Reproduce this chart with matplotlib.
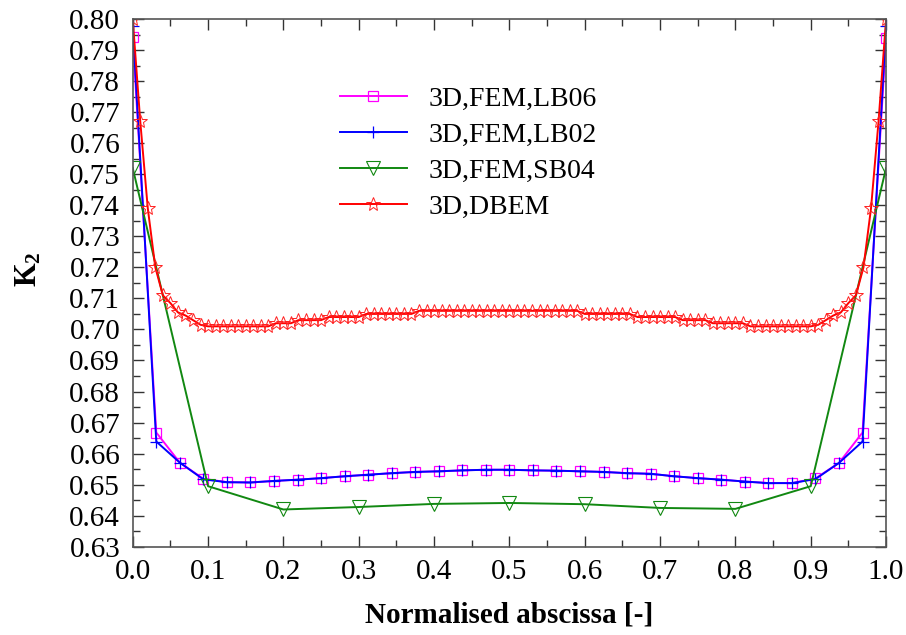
import numpy as np
import matplotlib.pyplot as plt
from matplotlib.ticker import MultipleLocator, FormatStrFormatter

plt.rcParams['font.family'] = ['Liberation Serif', 'DejaVu Serif']
plt.rcParams['mathtext.fontset'] = 'custom'
plt.rcParams['mathtext.rm'] = 'Liberation Serif'
plt.rcParams['mathtext.bf'] = 'Liberation Serif:bold'

# LB06 / LB02 sampled at k/32
x_lb = np.linspace(0.0, 1.0, 33)
k2_lb06 = [0.7943, 0.6668, 0.6571, 0.6519, 0.6508, 0.6507, 0.6512, 0.6516, 0.6521,
           0.6527, 0.6532, 0.6537, 0.6541, 0.6543, 0.6546, 0.6548, 0.6548, 0.6546,
           0.6545, 0.6543, 0.6541, 0.6537, 0.6535, 0.6527, 0.6521, 0.6516, 0.6510,
           0.6505, 0.6505, 0.6520, 0.6570, 0.6668, 0.7940]
k2_lb02 = [0.7976, 0.6639, 0.6571, 0.6517, 0.6508, 0.6507, 0.6512, 0.6516, 0.6521,
           0.6527, 0.6532, 0.6537, 0.6541, 0.6543, 0.6546, 0.6548, 0.6548, 0.6546,
           0.6545, 0.6543, 0.6541, 0.6537, 0.6535, 0.6527, 0.6521, 0.6516, 0.6510,
           0.6505, 0.6505, 0.6518, 0.6570, 0.6639, 0.7976]

# SB04
x_sb = [0.0, 0.1, 0.2, 0.3, 0.4, 0.5, 0.6, 0.7, 0.8, 0.9, 1.0]
k2_sb04 = [0.7520, 0.6495, 0.6420, 0.6428, 0.6438, 0.6441, 0.6437, 0.6425, 0.6422, 0.6495, 0.7520]

# DBEM
x_dbem = np.linspace(0.0, 1.0, 101)
k2_dbem = [0.800, 0.767, 0.739, 0.720, 0.711, 0.7085, 0.7055, 0.7045, 0.703, 0.7015,
           0.701, 0.701, 0.701, 0.701, 0.701, 0.701, 0.701, 0.701, 0.701, 0.702,
           0.702, 0.702, 0.703, 0.703, 0.703, 0.703, 0.704, 0.704, 0.704, 0.704,
           0.704, 0.705, 0.705, 0.705, 0.705, 0.705, 0.705, 0.705, 0.706, 0.706,
           0.706, 0.706, 0.706, 0.706, 0.706, 0.706, 0.706, 0.706, 0.706, 0.706,
           0.706, 0.706, 0.706, 0.706, 0.706, 0.706, 0.706, 0.706, 0.706, 0.706,
           0.705, 0.705, 0.705, 0.705, 0.705, 0.705, 0.705, 0.704, 0.704, 0.704,
           0.704, 0.704, 0.704, 0.703, 0.703, 0.703, 0.703, 0.702, 0.702, 0.702,
           0.702, 0.702, 0.701, 0.701, 0.701, 0.701, 0.701, 0.701, 0.701, 0.701,
           0.701, 0.7015, 0.703, 0.7045, 0.7055, 0.7085, 0.711, 0.720, 0.739, 0.767,
           0.800]

fig = plt.figure(figsize=(9.06, 6.35), dpi=100)
ax = fig.add_axes([0.1465, 0.139, 0.8315, 0.831])

ax.plot(x_lb, k2_lb06, color='#ff00ff', lw=1.4, marker='s', ms=6.5,
        mfc='none', mec='#ff00ff', mew=0.9, label='3D,FEM,LB06')
ax.plot(x_lb, k2_lb02, color='#0000ff', lw=1.4, marker='+', ms=9,
        mew=0.9, label='3D,FEM,LB02')
ax.plot(x_sb, k2_sb04, color='#118811', lw=1.4, marker='v', ms=9.5,
        mfc='none', mec='#118811', mew=0.8, label='3D,FEM,SB04')
ax.plot(x_dbem, k2_dbem, color='#ff0000', lw=1.4, marker='*', ms=10,
        mfc='none', mec='#ff2020', mew=0.7, label='3D,DBEM')

ax.set_xlim(0.0, 1.0)
ax.set_ylim(0.63, 0.80)
ax.xaxis.set_major_locator(MultipleLocator(0.1))
ax.xaxis.set_minor_locator(MultipleLocator(0.05))
ax.yaxis.set_major_locator(MultipleLocator(0.01))
ax.yaxis.set_minor_locator(MultipleLocator(0.005))
ax.xaxis.set_major_formatter(FormatStrFormatter('%.1f'))
ax.yaxis.set_major_formatter(FormatStrFormatter('%.2f'))
ax.tick_params(which='both', direction='in', top=True, right=True,
               color='#333333', labelsize=21)
ax.tick_params(which='major', length=8, width=1, pad=9)
ax.tick_params(which='minor', length=5, width=1)
for s in ax.spines.values():
    s.set_color('#555555')
    s.set_linewidth(1.2)

ax.set_xlabel('Normalised abscissa [-]', fontsize=21, fontweight='bold', labelpad=12)
ax.set_ylabel(r'$\mathbf{K_2}$', fontsize=22)
ax.yaxis.set_label_coords(-0.119, 0.527)

ax.legend(loc='upper left', bbox_to_anchor=(0.275, 0.872), frameon=False,
          fontsize=20, handlelength=2.4, handletextpad=0.8, labelspacing=0.38,
          borderpad=0, borderaxespad=0)

fig.savefig('out.png', dpi=100)
